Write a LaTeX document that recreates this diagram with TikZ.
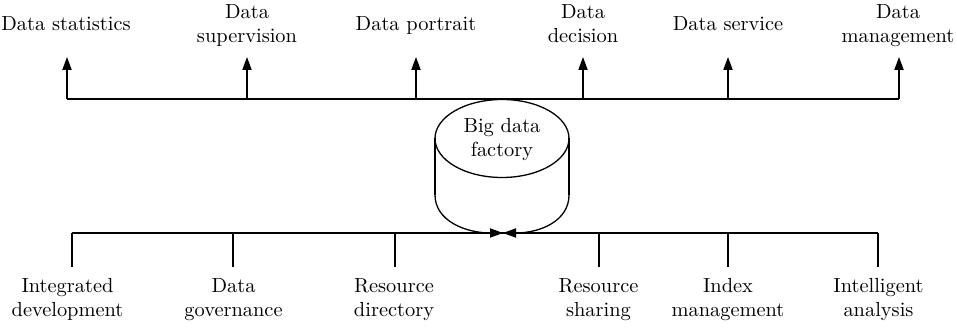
\documentclass[tikz,border=0pt]{standalone}
\usetikzlibrary{arrows.meta}
\newcommand\twolines[2]{\strut #1\\\strut #2}
\begin{document}
\begin{tikzpicture}[x=0.5pt,y=-0.5pt,
  lab/.style={font=\fontsize{10.2}{12}\selectfont, align=center, inner sep=0pt, anchor=center},
  ln/.style={line width=0.65pt},
  arr/.style={ln,-{Triangle[length=6.5pt,width=4.6pt]}}]
\useasboundingbox (0,0) rectangle (957,330);

% top labels
\node[lab] (t1) at (66,25.5) {\strut Data statistics};
\node[lab] (t2) at (247,25.5) {\twolines{Data}{supervision}};
\node[lab] (t3) at (416,25.5) {\strut Data portrait};
\node[lab] (t4) at (583,25.5) {\twolines{Data}{decision}};
\node[lab] (t5) at (728,25.5) {\strut Data service};
\node[lab] (t6) at (898,25.5) {\twolines{Data}{management}};

% bottom labels
\node[lab] (b1) at (67.5,300) {\twolines{Integrated}{development}};
\node[lab] (b2) at (233.5,300) {\twolines{Data}{governance}};
\node[lab] (b3) at (394,300) {\twolines{Resource}{directory}};
\node[lab] (b4) at (598.5,300) {\twolines{Resource}{sharing}};
\node[lab] (b5) at (728,300) {\twolines{Index}{management}};
\node[lab] (b6) at (878.5,300) {\twolines{Intelligent}{analysis}};

% top bus
\foreach \i/\x in {1/67,2/247,3/416,4/583,5/728,6/899}{
  \coordinate (tj\i) at (\x,99);
  \coordinate (ta\i) at (\x,57);
}
\draw[ln] (tj1) -- (tj6);
\foreach \i in {1,...,6}{ \draw[arr] (tj\i) -- (ta\i); }

% bottom bus
\foreach \i/\x in {1/72,2/233,3/395,4/599,5/728,6/878}{
  \coordinate (bj\i) at (\x,233);
  \coordinate (bd\i) at (\x,267);
}
\draw[ln] (bj1) -- (bj6);
\foreach \i in {1,...,6}{ \draw[ln] (bj\i) -- (bd\i); }

% cylinder
\draw[ln] (502,138.5) ellipse [x radius=33.5pt, y radius=19.5pt];
\coordinate (cl) at (435,138.5);
\coordinate (cr) at (569,138.5);
\coordinate (clb) at (435,195);
\coordinate (crb) at (569,195);
\coordinate (meet) at (503,233);
\draw[ln] (cl) -- (clb);
\draw[ln] (cr) -- (crb);
\draw[arr] (clb) .. controls (435,221) and (466,233) .. (meet);
\draw[arr] (crb) .. controls (569,221) and (540,233) .. (meet);
\node[lab] (bdf) at (502,140) {\twolines{Big data}{factory}};
\end{tikzpicture}
\end{document}
